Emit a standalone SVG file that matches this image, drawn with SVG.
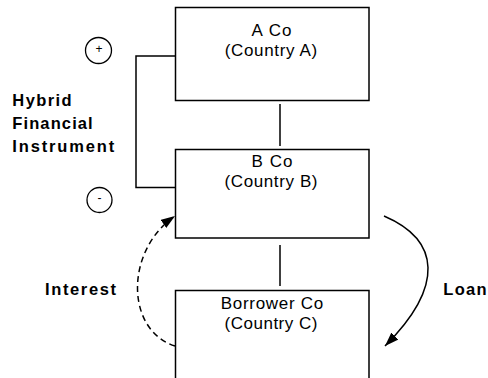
<svg xmlns="http://www.w3.org/2000/svg" width="488" height="378" viewBox="0 0 488 378">
<style>
.box{fill:#fff;stroke:#000;stroke-width:1.5}
.line{fill:none;stroke:#000;stroke-width:1.5}
.t{font-family:"Liberation Sans",Arial,sans-serif;font-size:17px;fill:#000;text-anchor:middle}
.b{font-family:"Liberation Sans",Arial,sans-serif;font-size:16.5px;font-weight:bold;fill:#000}
.sign{font-family:"Liberation Sans",Arial,sans-serif;font-size:12px;fill:#000;text-anchor:middle}
.circ{fill:none;stroke:#000;stroke-width:1.3}
</style>
<defs>
<marker id="arrow" viewBox="0 0 14 10" refX="14" refY="5" markerWidth="14" markerHeight="10" markerUnits="userSpaceOnUse" orient="auto">
<path d="M0,0 L14,5 L0,10 Z" fill="#000" stroke="none"/>
</marker>
</defs>
<g id="connectors">
<line class="line" x1="280" y1="104" x2="280" y2="146"/>
<line class="line" x1="280" y1="245" x2="280" y2="286"/>
<path class="line" d="M175,56 H136 V187.5 H175"/>
<path class="line" d="M384,216 C440,240 445,286 385,346" marker-end="url(#arrow)"/>
<path class="line" d="M175,346 C125,330 125,250 175,216" stroke-dasharray="6,4" marker-end="url(#arrow)"/>
</g>
<g id="node-a">
<rect class="box" x="175.5" y="7.5" width="193.5" height="93"/>
<text class="t" x="271.5" y="36" textLength="40" lengthAdjust="spacing">A Co</text>
<text class="t" x="271" y="56" textLength="92.5" lengthAdjust="spacing">(Country A)</text>
</g>
<g id="node-b">
<rect class="box" x="175.5" y="149.5" width="193.5" height="88.5"/>
<text class="t" x="272" y="166.5" textLength="41" lengthAdjust="spacing">B Co</text>
<text class="t" x="271" y="187" textLength="93" lengthAdjust="spacing">(Country B)</text>
</g>
<g id="node-c">
<path class="line" d="M175.5,380 V290.5 H369 V380"/>
<text class="t" x="272" y="308.5" textLength="102.5" lengthAdjust="spacing">Borrower Co</text>
<text class="t" x="271" y="328.5" textLength="93" lengthAdjust="spacing">(Country C)</text>
</g>
<g id="hybrid-label">
<text class="b" x="12.3" y="106" textLength="59.4" lengthAdjust="spacing">Hybrid</text>
<text class="b" x="12.3" y="129.3" textLength="80.4" lengthAdjust="spacing">Financial</text>
<text class="b" x="12.3" y="151.5" textLength="102" lengthAdjust="spacing">Instrument</text>
</g>
<g id="plus">
<circle class="circ" cx="98.5" cy="50.5" r="13"/>
<text class="sign" x="99" y="53">+</text>
</g>
<g id="minus">
<circle class="circ" cx="99.5" cy="200" r="12.5"/>
<text class="sign" x="99.5" y="202">-</text>
</g>
<g id="interest-label">
<text class="b" x="45" y="295" textLength="71" lengthAdjust="spacing">Interest</text>
</g>
<g id="loan-label">
<text class="b" x="443.3" y="295" textLength="43.4" lengthAdjust="spacing">Loan</text>
</g>
</svg>
